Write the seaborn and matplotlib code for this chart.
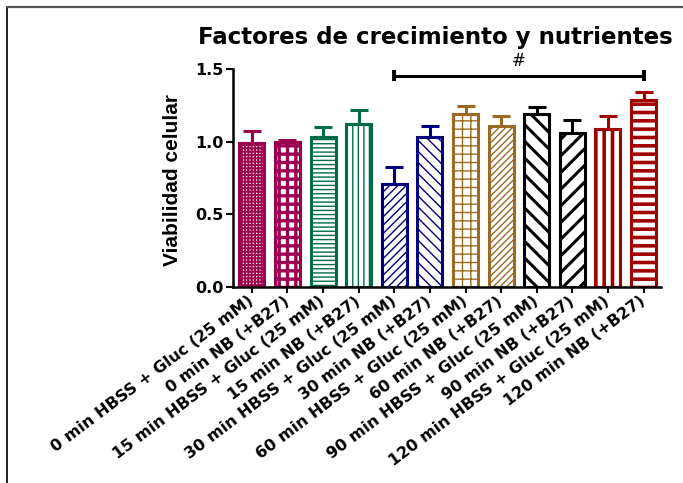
import matplotlib
matplotlib.use("Agg")
import matplotlib.pyplot as plt
import matplotlib.font_manager as fm
from matplotlib.lines import Line2D
import numpy as np
import pandas as pd
import seaborn as sns

# Groups, mean viability and SEM
conditions = [
    "0 min HBSS + Gluc (25 mM)", "0 min NB (+B27)",
    "15 min HBSS + Gluc (25 mM)", "15 min NB (+B27)",
    "30 min HBSS + Gluc (25 mM)", "30 min NB (+B27)",
    "60 min HBSS + Gluc (25 mM)", "60 min NB (+B27)",
    "90 min HBSS + Gluc (25 mM)", "90 min NB (+B27)",
    "120 min HBSS + Gluc (25 mM)", "120 min NB (+B27)",
]
viability = [0.99, 1.00, 1.03, 1.12, 0.71, 1.03, 1.19, 1.11, 1.19, 1.06, 1.09, 1.29]
sem = [0.085, 0.015, 0.07, 0.10, 0.115, 0.075, 0.055, 0.07, 0.05, 0.09, 0.085, 0.055]
bar_colors = ["#9E0050", "#9E0050", "#006B47", "#006B47", "#00007F", "#00007F",
              "#9C6A22", "#9C6A22", "#000000", "#000000", "#A00000", "#A00000"]
bar_hatches = ["+++++", "++", "----", "|||", "////", "\\\\\\",
               "++", "/////", "\\\\", "//", "||", "--"]
hatch_widths = [1.4, 2.4, 1.0, 1.0, 1.0, 1.0, 1.0, 1.0, 2.2, 2.2, 2.6, 2.6]
y_ticks = [0.0, 0.5, 1.0, 1.5]
bracket_from, bracket_to = 4, 11
bracket_level = 1.455
bracket_mark = "#"

def available(name):
    try:
        fm.findfont(fm.FontProperties(family=name), fallback_to_default=False)
        return True
    except Exception:
        return False

sns.set_theme(style="ticks")
plt.rcParams["font.family"] = ["DejaVu Sans"]
plt.rcParams["text.color"] = "black"
plt.rcParams["axes.labelcolor"] = "black"
plt.rcParams["xtick.color"] = "black"
plt.rcParams["ytick.color"] = "black"
plt.rcParams["hatch.linewidth"] = 1.0
label_font = "Liberation Sans Narrow" if available("Liberation Sans Narrow") else "Liberation Sans"

df = pd.DataFrame({"condition": conditions, "viability": viability})

fig = plt.figure(figsize=(6.83, 4.83), dpi=100)
ax = fig.add_axes([0.3411, 0.4058, 0.6267, 0.4513])

sns.barplot(data=df, x="condition", y="viability", hue="condition",
            palette=bar_colors, legend=False, errorbar=None, width=0.7,
            saturation=1, ax=ax)

for patch, c, h, hw in zip(ax.patches, bar_colors, bar_hatches, hatch_widths):
    patch.set_facecolor("white")
    patch.set_edgecolor(c)
    patch.set_linewidth(2.2)
    patch.set_hatch(h)
    if hasattr(patch, "set_hatch_linewidth"):
        patch.set_hatch_linewidth(hw)
    patch.set_zorder(2)

# upper SEM whiskers
for i, (v, e, c) in enumerate(zip(viability, sem, bar_colors)):
    ax.errorbar([i], [v], yerr=[[0], [e]], fmt="none", ecolor=c,
                elinewidth=2.2, capsize=6.5, capthick=2.2, zorder=1)

ax.set_xlim(-0.53, 11.49)
ax.set_ylim(0, 1.5)
ax.set_yticks(y_ticks)
ax.set_yticklabels([f"{t:.1f}" for t in y_ticks], fontsize=11.5, fontweight="bold",
                   color="black")
ax.set_xticks(range(len(conditions)))
ax.set_xticklabels(conditions, rotation=37, ha="right", va="center",
                   rotation_mode="anchor", fontsize=11.5, fontweight="bold",
                   color="black")
ax.set_xlabel("")
ax.set_ylabel("")
for side in ("top", "right"):
    ax.spines[side].set_visible(False)
for side in ("left", "bottom"):
    ax.spines[side].set_linewidth(1.8)
    ax.spines[side].set_color("black")
ax.tick_params(axis="y", length=5, width=1.5, pad=2, colors="black")
ax.tick_params(axis="x", length=4, width=1.5, pad=5, colors="black")
ax.set_facecolor("white")

# significance bracket
ax.plot([bracket_from, bracket_to], [bracket_level, bracket_level], color="black",
        lw=2.2, clip_on=False, solid_capstyle="butt")
for xe in (bracket_from, bracket_to):
    ax.plot([xe, xe], [bracket_level - 0.04, bracket_level + 0.04], color="black",
            lw=2.8, clip_on=False, solid_capstyle="butt")
ax.text((bracket_from + bracket_to) / 2, bracket_level + 0.035, bracket_mark,
        ha="center", va="bottom", fontsize=12, color="black", clip_on=False)

fig.text(0.637, 0.923, "Factores de crecimiento y nutrientes", ha="center",
         va="center", fontsize=16.5, fontweight="bold", color="black")
fig.text(0.253, 0.628, "Viabilidad celular", rotation=90, ha="center",
         va="center", fontsize=15, fontweight="bold", family=label_font,
         color="black")

# page frame lines
fig.add_artist(Line2D([0.0102, 0.0102], [0, 0.9865], color="black", lw=1.2,
                      transform=fig.transFigure))
fig.add_artist(Line2D([0.0102, 1.0], [0.9865, 0.9865], color="#555555", lw=1.6,
                      transform=fig.transFigure))

fig.savefig("out.png", dpi=100, facecolor="white")
